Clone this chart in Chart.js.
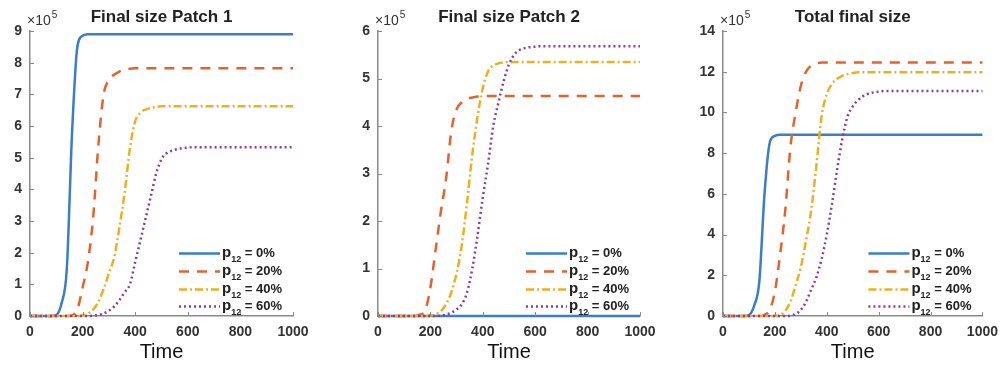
<!DOCTYPE html>
<html><head><meta charset="utf-8">
<script src="https://cdn.jsdelivr.net/npm/chart.js@4.4.1/dist/chart.umd.min.js"></script>
<style>
html,body{margin:0;padding:0;background:#fff;width:1006px;height:367px;overflow:hidden}
.p{position:absolute;top:0;height:367px}
</style></head><body>
<div class="p" style="left:0;width:330px"><canvas id="c1" width="330" height="367"></canvas></div>
<div class="p" style="left:330px;width:340px"><canvas id="c2" width="340" height="367"></canvas></div>
<div class="p" style="left:670px;width:336px"><canvas id="c3" width="336" height="367"></canvas></div>
<script>
// Time points
const time = [0,20,40,60,80,100,120,140,160,180, 200,220,240,260,280,300,320,340,360,380, 400,420,440,460,480,500,520,540,560,580, 600,620,640,660,680,700,800,900,1000];
const xTicks = [0,200,400,600,800,1000];
const legendPct = ['0%','20%','40%','60%'];
const titles = ['Final size Patch 1','Final size Patch 2','Total final size'];
// values in units of 10^5
const patch1_p0 = [0,0,0,0,0,0.03,0.4,1.5,5.8,8.5, 8.85,8.9,8.9,8.9,8.9,8.9,8.9,8.9,8.9,8.9, 8.9,8.9,8.9,8.9,8.9,8.9,8.9,8.9,8.9,8.9, 8.9,8.9,8.9,8.9,8.9,8.9,8.9,8.9,8.9];
const patch1_p20 = [0,0,0,0,0,0,0,0,0.02,0.2, 0.9,1.7,3.1,5.4,7.0,7.45,7.62,7.72,7.78,7.81, 7.82,7.82,7.82,7.82,7.82,7.82,7.82,7.82,7.82,7.82, 7.82,7.82,7.82,7.82,7.82,7.82,7.82,7.82,7.82];
const patch1_p40 = [0,0,0,0,0,0,0,0,0,0, 0.02,0.07,0.2,0.45,0.85,1.35,1.85,2.8,3.9,5.3, 6.15,6.42,6.52,6.57,6.6,6.62,6.62,6.62,6.62,6.62, 6.62,6.62,6.62,6.62,6.62,6.62,6.62,6.62,6.62];
const patch1_p60 = [0,0,0,0,0,0,0,0,0,0, 0,0,0.01,0.03,0.08,0.17,0.3,0.5,0.75,1.0, 1.7,2.4,3.1,3.8,4.5,4.95,5.15,5.22,5.27,5.3, 5.32,5.33,5.33,5.33,5.33,5.33,5.33,5.33,5.33];
const patch2_p0 = [0,0,0,0,0,0,0,0,0,0, 0,0,0,0,0,0,0,0,0,0, 0,0,0,0,0,0,0,0,0,0, 0,0,0,0,0,0,0,0,0];
const patch2_p20 = [0,0,0,0,0,0,0,0,0.03,0.12, 0.6,1.4,2.2,2.9,3.9,4.35,4.5,4.57,4.6,4.62, 4.63,4.63,4.63,4.63,4.63,4.63,4.63,4.63,4.63,4.63, 4.63,4.63,4.63,4.63,4.63,4.63,4.63,4.63,4.63];
const patch2_p40 = [0,0,0,0,0,0,0,0,0,0, 0.01,0.04,0.1,0.25,0.5,0.9,1.5,2.4,3.4,4.2, 4.8,5.15,5.27,5.32,5.34,5.35,5.35,5.35,5.35,5.35, 5.35,5.35,5.35,5.35,5.35,5.35,5.35,5.35,5.35];
const patch2_p60 = [0,0,0,0,0,0,0,0,0,0, 0,0,0.01,0.03,0.07,0.14,0.25,0.5,1.0,1.7, 2.5,3.2,4.0,4.5,4.95,5.3,5.5,5.6,5.64,5.66, 5.67,5.68,5.68,5.68,5.68,5.68,5.68,5.68,5.68];
const total_p0 = [0,0,0,0,0,0.05,0.5,1.7,6.0,8.5, 8.85,8.9,8.9,8.9,8.9,8.9,8.9,8.9,8.9,8.9, 8.9,8.9,8.9,8.9,8.9,8.9,8.9,8.9,8.9,8.9, 8.9,8.9,8.9,8.9,8.9,8.9,8.9,8.9,8.9];
const total_p20 = [0,0,0,0,0,0,0,0,0.05,0.3, 1.2,3.0,5.2,8.3,10.0,11.3,12.0,12.3,12.4,12.45, 12.45,12.45,12.45,12.45,12.45,12.45,12.45,12.45,12.45,12.45, 12.45,12.45,12.45,12.45,12.45,12.45,12.45,12.45,12.45];
const total_p40 = [0,0,0,0,0,0,0,0,0,0, 0,0.05,0.25,0.7,1.5,2.4,3.7,5.2,7.4,9.8, 10.9,11.4,11.65,11.8,11.88,11.93,11.97,11.97,11.97,11.97, 11.97,11.97,11.97,11.97,11.97,11.97,11.97,11.97,11.97];
const total_p60 = [0,0,0,0,0,0,0,0,0,0, 0,0,0,0.02,0.1,0.3,0.7,1.3,1.9,2.8, 4.0,5.5,7.2,8.7,9.8,10.3,10.6,10.8,10.92,10.98, 11.02,11.05,11.05,11.05,11.05,11.05,11.05,11.05,11.05];
const yMax = [9,6,14];
const yStep = [1,1,2];

const FONT = '"Liberation Sans", Arial, sans-serif';
Chart.defaults.font.family = FONT;
const styles = [
  {color:'#3a7dc9', dash:[]},
  {color:'#e5622c', dash:[10,8]},
  {color:'#eeb022', dash:[8,3,2,3]},
  {color:'#8a3ca0', dash:[2,3]}
];

const decor = {
  id:'decor',
  afterDraw(chart, args, o){
    const {ctx, chartArea:a, scales:{x,y}} = chart;
    ctx.save();
    ctx.strokeStyle = '#8a8a8a'; ctx.lineWidth = 1;
    x.ticks.forEach(t=>{const px=Math.round(x.getPixelForValue(t.value))+0.5; ctx.beginPath(); ctx.moveTo(px,a.bottom); ctx.lineTo(px,a.bottom-4); ctx.stroke();});
    y.ticks.forEach(t=>{const py=Math.round(y.getPixelForValue(t.value))+0.5; ctx.beginPath(); ctx.moveTo(a.left,py); ctx.lineTo(a.left+4,py); ctx.stroke();});
    // title
    ctx.fillStyle = '#222'; ctx.textAlign='center'; ctx.textBaseline='middle';
    ctx.font = 'bold 17px ' + FONT;
    ctx.fillText(o.title, (a.left+a.right)/2, 17);
    // x label
    ctx.font = '20px ' + FONT; ctx.fillStyle='#111';
    ctx.fillText('Time', (a.left+a.right)/2, 352);
    // exponent
    ctx.textAlign='left'; ctx.textBaseline='alphabetic'; ctx.fillStyle='#333';
    ctx.font = '14px ' + FONT;
    ctx.fillText('\u00d710', a.left-3, 25);
    const w = ctx.measureText('\u00d710').width;
    ctx.font = '10px ' + FONT;
    ctx.fillText('5', a.left-3+w+1, 18);
    // legend
    chart.data.datasets.forEach((ds,i)=>{
      const ly = Math.round(a.bottom - 63 + i*17.8) + 0.5;
      const x0 = a.right - 114;
      ctx.strokeStyle = ds.borderColor; ctx.lineWidth = ds.borderWidth;
      ctx.setLineDash(ds.borderDash||[]);
      ctx.beginPath(); ctx.moveTo(x0,ly); ctx.lineTo(x0+41,ly); ctx.stroke();
      ctx.setLineDash([]);
      ctx.fillStyle='#222';
      let tx = x0+43;
      ctx.font = 'bold 15px ' + FONT;
      ctx.fillText('p', tx, ly+3); tx += ctx.measureText('p').width;
      ctx.font = 'bold 9px ' + FONT;
      ctx.fillText('12', tx, ly+8); tx += ctx.measureText('12').width;
      ctx.font = 'bold 13px ' + FONT;
      ctx.fillText(' = ' + legendPct[i], tx, ly+3);
    });
    ctx.restore();
  }
};

function makeChart(id, idx, series, yWidth, rightPad){
  const datasets = series.map((s,i)=>({
    label: 'p12 = ' + legendPct[i],
    data: time.map((t,k)=>({x:t, y:s[k]})),
    borderColor: styles[i].color,
    borderDash: styles[i].dash,
    borderWidth: 2.5,
    pointRadius: 0,
    cubicInterpolationMode: 'monotone',
    fill: false,
    clip: false,
    order: 3 - i
  }));
  return new Chart(document.getElementById(id), {
    type:'line',
    data:{datasets},
    options:{
      responsive:false, animation:false, devicePixelRatio:1,
      layout:{padding:{top:31, right:rightPad, left:0, bottom:0}},
      plugins:{legend:{display:false}, tooltip:{enabled:false}, decor:{title:titles[idx]}},
      scales:{
        x:{type:'linear', min:0, max:1000,
           afterFit(s){s.height = 51;},
           afterBuildTicks(s){s.ticks = xTicks.map(v=>({value:v}));},
           grid:{display:false, drawTicks:false},
           border:{display:true, color:'#8a8a8a', width:1.5},
           ticks:{padding:8, color:'#333', font:{size:14, weight:'bold'}, maxRotation:0, callback:v=>String(v)}
        },
        y:{type:'linear', min:0, max:yMax[idx],
           afterFit(s){s.width = yWidth;},
           ticks:{stepSize:yStep[idx], padding:8, color:'#333', font:{size:14, weight:'bold'}, callback:v=>String(v)},
           grid:{display:false, drawTicks:false},
           border:{display:true, color:'#8a8a8a', width:1.5}
        }
      }
    },
    plugins:[decor]
  });
}
makeChart('c1', 0, [patch1_p0, patch1_p20, patch1_p40, patch1_p60], 30, 37);
makeChart('c2', 1, [patch2_p0, patch2_p20, patch2_p40, patch2_p60], 48, 30);
makeChart('c3', 2, [total_p0, total_p20, total_p40, total_p60], 53, 21);
</script>
</body></html>
